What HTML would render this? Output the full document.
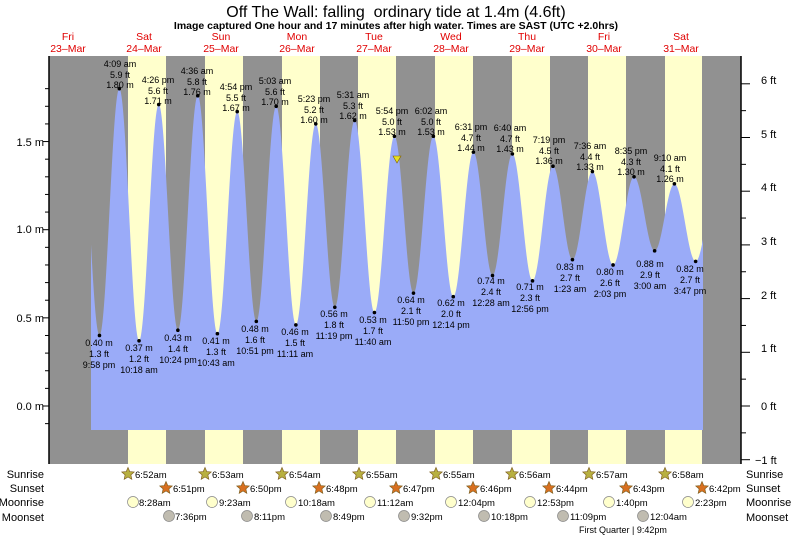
<!DOCTYPE html>
<html><head><meta charset="utf-8"><style>
body{margin:0;background:#fff;}
svg{display:block;font-family:"Liberation Sans",sans-serif;}
</style></head><body>
<svg id="s" width="793" height="538" viewBox="0 0 793 538">
<rect x="49" y="56" width="692" height="408" fill="#919191"/>
<g fill="#ffffcc">
<rect x="128" y="56" width="38" height="408"/>
<rect x="205" y="56" width="38" height="408"/>
<rect x="282" y="56" width="38" height="408"/>
<rect x="358" y="56" width="38" height="408"/>
<rect x="435" y="56" width="38" height="408"/>
<rect x="512" y="56" width="38" height="408"/>
<rect x="588" y="56" width="38" height="408"/>
<rect x="665" y="56" width="37" height="408"/>
</g>
<path id="tide" fill="#9aabf8" d=""/>
<line x1="49" y1="56" x2="49" y2="464" stroke="#000" stroke-width="1.5"/>
<line x1="741" y1="56" x2="741" y2="464" stroke="#000" stroke-width="1.5"/>
<g id="ticks" stroke="#000" stroke-width="1"></g>
<g font-size="11" fill="#000">
<text x="44" y="146" text-anchor="end">1.5 m</text>
<text x="44" y="233" text-anchor="end">1.0 m</text>
<text x="44" y="322" text-anchor="end">0.5 m</text>
<text x="44" y="410" text-anchor="end">0.0 m</text>
<text x="761" y="84">6 ft</text>
<text x="761" y="138">5 ft</text>
<text x="761" y="191">4 ft</text>
<text x="761" y="245">3 ft</text>
<text x="761" y="299">2 ft</text>
<text x="761" y="352">1 ft</text>
<text x="761" y="410">0 ft</text>
<text x="755" y="464">−1 ft</text>
</g>
<text x="396" y="17" font-size="16" text-anchor="middle">Off The Wall: falling &#160;ordinary tide at 1.4m (4.6ft)</text>
<text x="396" y="29" font-size="10.5" font-weight="bold" text-anchor="middle">Image captured One hour and 17 minutes after high water. Times are SAST (UTC +2.0hrs)</text>
<g font-size="10.5" fill="#e00000" text-anchor="middle">
<text x="68" y="40">Fri</text><text x="68" y="52">23–Mar</text>
<text x="144" y="40">Sat</text><text x="144" y="52">24–Mar</text>
<text x="221" y="40">Sun</text><text x="221" y="52">25–Mar</text>
<text x="297" y="40">Mon</text><text x="297" y="52">26–Mar</text>
<text x="374" y="40">Tue</text><text x="374" y="52">27–Mar</text>
<text x="451" y="40">Wed</text><text x="451" y="52">28–Mar</text>
<text x="527" y="40">Thu</text><text x="527" y="52">29–Mar</text>
<text x="604" y="40">Fri</text><text x="604" y="52">30–Mar</text>
<text x="681" y="40">Sat</text><text x="681" y="52">31–Mar</text>
</g>
<g id="labels" font-size="9" text-anchor="middle" fill="#000">
<text x="120" y="67">4:09 am</text><text x="120" y="78">5.9 ft</text><text x="120" y="88">1.80 m</text>
<text x="158" y="83">4:26 pm</text><text x="158" y="94">5.6 ft</text><text x="158" y="104">1.71 m</text>
<text x="197" y="74">4:36 am</text><text x="197" y="85">5.8 ft</text><text x="197" y="95">1.76 m</text>
<text x="236" y="90">4:54 pm</text><text x="236" y="101">5.5 ft</text><text x="236" y="111">1.67 m</text>
<text x="275" y="84">5:03 am</text><text x="275" y="95">5.6 ft</text><text x="275" y="105">1.70 m</text>
<text x="314" y="102">5:23 pm</text><text x="314" y="113">5.2 ft</text><text x="314" y="123">1.60 m</text>
<text x="353" y="98">5:31 am</text><text x="353" y="109">5.3 ft</text><text x="353" y="119">1.62 m</text>
<text x="392" y="114">5:54 pm</text><text x="392" y="125">5.0 ft</text><text x="392" y="135">1.53 m</text>
<text x="431" y="114">6:02 am</text><text x="431" y="125">5.0 ft</text><text x="431" y="135">1.53 m</text>
<text x="471" y="130">6:31 pm</text><text x="471" y="141">4.7 ft</text><text x="471" y="151">1.44 m</text>
<text x="510" y="131">6:40 am</text><text x="510" y="142">4.7 ft</text><text x="510" y="152">1.43 m</text>
<text x="549" y="143">7:19 pm</text><text x="549" y="154">4.5 ft</text><text x="549" y="164">1.36 m</text>
<text x="590" y="149">7:36 am</text><text x="590" y="160">4.4 ft</text><text x="590" y="170">1.33 m</text>
<text x="631" y="154">8:35 pm</text><text x="631" y="165">4.3 ft</text><text x="631" y="175">1.30 m</text>
<text x="670" y="161">9:10 am</text><text x="670" y="172">4.1 ft</text><text x="670" y="182">1.26 m</text>

<text x="99" y="346">0.40 m</text><text x="99" y="357">1.3 ft</text><text x="99" y="368">9:58 pm</text>
<text x="139" y="351">0.37 m</text><text x="139" y="362">1.2 ft</text><text x="139" y="373">10:18 am</text>
<text x="178" y="341">0.43 m</text><text x="178" y="352">1.4 ft</text><text x="178" y="363">10:24 pm</text>
<text x="216" y="344">0.41 m</text><text x="216" y="355">1.3 ft</text><text x="216" y="366">10:43 am</text>
<text x="255" y="332">0.48 m</text><text x="255" y="343">1.6 ft</text><text x="255" y="354">10:51 pm</text>
<text x="295" y="335">0.46 m</text><text x="295" y="346">1.5 ft</text><text x="295" y="357">11:11 am</text>
<text x="334" y="317">0.56 m</text><text x="334" y="328">1.8 ft</text><text x="334" y="339">11:19 pm</text>
<text x="373" y="323">0.53 m</text><text x="373" y="334">1.7 ft</text><text x="373" y="345">11:40 am</text>
<text x="411" y="303">0.64 m</text><text x="411" y="314">2.1 ft</text><text x="411" y="325">11:50 pm</text>
<text x="451" y="306">0.62 m</text><text x="451" y="317">2.0 ft</text><text x="451" y="328">12:14 pm</text>
<text x="491" y="284">0.74 m</text><text x="491" y="295">2.4 ft</text><text x="491" y="306">12:28 am</text>
<text x="530" y="290">0.71 m</text><text x="530" y="301">2.3 ft</text><text x="530" y="312">12:56 pm</text>
<text x="570" y="270">0.83 m</text><text x="570" y="281">2.7 ft</text><text x="570" y="292">1:23 am</text>
<text x="610" y="275">0.80 m</text><text x="610" y="286">2.6 ft</text><text x="610" y="297">2:03 pm</text>
<text x="650" y="267">0.88 m</text><text x="650" y="278">2.9 ft</text><text x="650" y="289">3:00 am</text>
<text x="690" y="272">0.82 m</text><text x="690" y="283">2.7 ft</text><text x="690" y="294">3:47 pm</text>
</g>
<g id="dots" fill="#000"></g>
<polygon points="393,156 401,156 397,163" fill="#e8e020" stroke="#806000" stroke-width="0.6"/>
<g font-size="11" fill="#000">
<text x="44" y="478" text-anchor="end">Sunrise</text>
<text x="44" y="492" text-anchor="end">Sunset</text>
<text x="44" y="506" text-anchor="end">Moonrise</text>
<text x="44" y="521" text-anchor="end">Moonset</text>
<text x="746" y="478">Sunrise</text>
<text x="746" y="492">Sunset</text>
<text x="746" y="506">Moonrise</text>
<text x="746" y="521">Moonset</text>
</g>
<g id="icons"></g>
<g font-size="9.5" fill="#000">
<text x="135" y="478">6:52am</text><text x="212" y="478">6:53am</text><text x="289" y="478">6:54am</text><text x="366" y="478">6:55am</text><text x="443" y="478">6:55am</text><text x="519" y="478">6:56am</text><text x="596" y="478">6:57am</text><text x="672" y="478">6:58am</text>
<text x="173" y="492">6:51pm</text><text x="250" y="492">6:50pm</text><text x="326" y="492">6:48pm</text><text x="403" y="492">6:47pm</text><text x="480" y="492">6:46pm</text><text x="556" y="492">6:44pm</text><text x="633" y="492">6:43pm</text><text x="709" y="492">6:42pm</text>
<text x="139" y="506">8:28am</text><text x="219" y="506">9:23am</text><text x="298" y="506">10:18am</text><text x="377" y="506">11:12am</text><text x="458" y="506">12:04pm</text><text x="537" y="506">12:53pm</text><text x="616" y="506">1:40pm</text><text x="695" y="506">2:23pm</text>
<text x="175" y="520">7:36pm</text><text x="254" y="520">8:11pm</text><text x="333" y="520">8:49pm</text><text x="411" y="520">9:32pm</text><text x="491" y="520">10:18pm</text><text x="570" y="520">11:09pm</text><text x="650" y="520">12:04am</text>
<text x="579" y="533" font-size="9">First Quarter | 9:42pm</text>
</g>
</svg>
<script>
(function(){
var NS="http://www.w3.org/2000/svg";
function X(h){return 106+h*77/24;}
function Y(m){return 406-176.3*m;}
function hm(d,h,mi,pm){var hh=h%12+(pm?12:0);return d*24+hh+mi/60;}
var E=[[-8.3,1.76],[hm(-1,9,58,1),0.40],[hm(0,4,9,0),1.80],[hm(0,10,18,0),0.37],[hm(0,4,26,1),1.71],[hm(0,10,24,1),0.43],
[hm(1,4,36,0),1.76],[hm(1,10,43,0),0.41],[hm(1,4,54,1),1.67],[hm(1,10,51,1),0.48],
[hm(2,5,3,0),1.70],[hm(2,11,11,0),0.46],[hm(2,5,23,1),1.60],[hm(2,11,19,1),0.56],
[hm(3,5,31,0),1.62],[hm(3,11,40,0),0.53],[hm(3,5,54,1),1.53],[hm(3,11,50,1),0.64],
[hm(4,6,2,0),1.53],[hm(4,12,14,1),0.62],[hm(4,6,31,1),1.44],
[hm(5,12,28,0),0.74],[hm(5,6,40,0),1.43],[hm(5,12,56,1),0.71],[hm(5,7,19,1),1.36],
[hm(6,1,23,0),0.83],[hm(6,7,36,0),1.33],[hm(6,2,3,1),0.80],[hm(6,8,35,1),1.30],
[hm(7,3,0,0),0.88],[hm(7,9,10,0),1.26],[hm(7,3,47,1),0.82],[190,1.24]];
function lvl(h){for(var i=0;i<E.length-1;i++){if(h>=E[i][0]&&h<=E[i+1][0]){var t=(h-E[i][0])/(E[i+1][0]-E[i][0]);return E[i][1]+(E[i+1][1]-E[i][1])*(1-Math.cos(Math.PI*t))/2;}}return 1;}
var d="M91,430";
for(var x=91;x<=703;x+=0.5){var h=(x-106)*24/77;d+=" L"+x+","+Y(lvl(h)).toFixed(1);}
d+=" L703,430 Z";document.getElementById("tide").setAttribute("d",d);
var dots=document.getElementById("dots");
for(var i=1;i<E.length-1;i++){var c=document.createElementNS(NS,"circle");c.setAttribute("cx",X(E[i][0]));c.setAttribute("cy",Y(E[i][1]));c.setAttribute("r",1.8);dots.appendChild(c);}
var tk=document.getElementById("ticks");
function ln(a,b,c,e){var l=document.createElementNS(NS,"line");l.setAttribute("x1",a);l.setAttribute("y1",b);l.setAttribute("x2",c);l.setAttribute("y2",e);tk.appendChild(l);}
for(var m=-0.1;m<=1.9;m+=0.1){var y=Y(m);if(y<56||y>464)continue;var big=Math.abs(m*2-Math.round(m*2))<0.01;ln(big?43:45,y,49,y);}
for(var f=-1;f<=6;f+=0.5){var y=406-53.7*f;var big=Math.abs(f-Math.round(f))<0.01;ln(741,y,big?750:746,y);}
var ic=document.getElementById("icons");
function star(cx,cy,col){var p="";for(var k=0;k<10;k++){var r=k%2?3:6.5,a=-Math.PI/2+k*Math.PI/5;p+=(cx+r*Math.cos(a)).toFixed(1)+","+(cy+r*Math.sin(a)).toFixed(1)+" ";}var s=document.createElementNS(NS,"polygon");s.setAttribute("points",p);s.setAttribute("fill",col);s.setAttribute("stroke","#806020");s.setAttribute("stroke-width","0.7");ic.appendChild(s);}
function circ(cx,cy,col){var c=document.createElementNS(NS,"circle");c.setAttribute("cx",cx);c.setAttribute("cy",cy);c.setAttribute("r",5.5);c.setAttribute("fill",col);c.setAttribute("stroke","#888");c.setAttribute("stroke-width","0.7");ic.appendChild(c);}
[128,205,282,359,436,512,589,665].forEach(function(x){star(x,474,"#b8b040");});
[166,243,319,396,473,549,626,702].forEach(function(x){star(x,488,"#d87020");});
[133,212,291,370,451,530,609,688].forEach(function(x){circ(x,502,"#ffffcc");});
[169,247,326,404,484,563,643].forEach(function(x){circ(x,516,"#c0bcb0");});
})();
</script>
</body></html>
